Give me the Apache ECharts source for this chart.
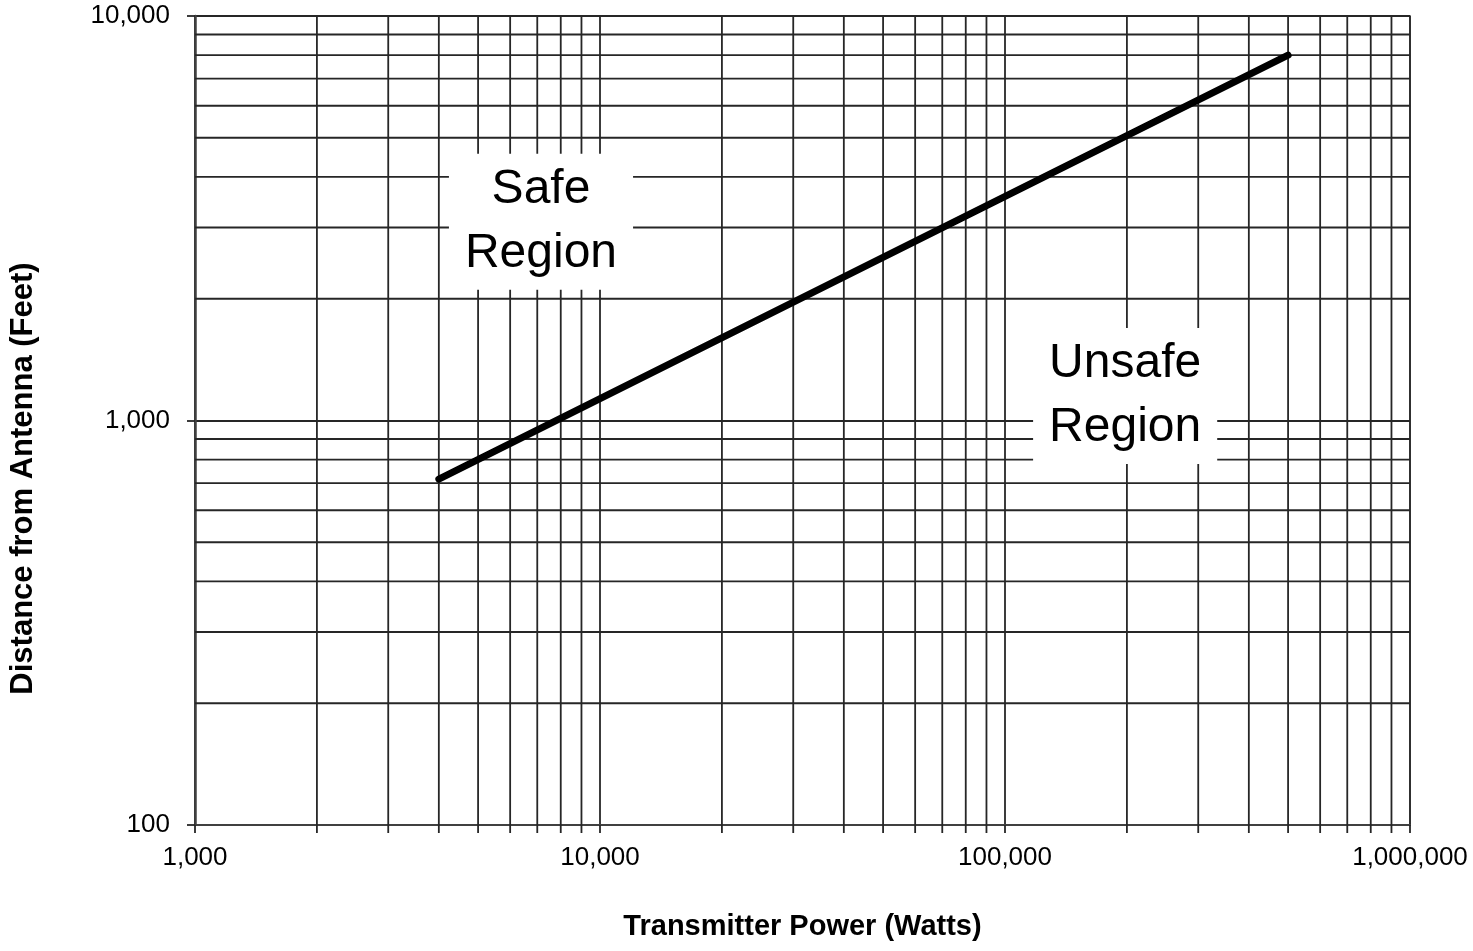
<!DOCTYPE html>
<html>
<head>
<meta charset="utf-8">
<title>Safe distance vs transmitter power</title>
<script src="https://cdn.jsdelivr.net/npm/echarts@6/dist/echarts.min.js"></script>
<style>
  html, body { margin: 0; padding: 0; background: #fff; }
  #main { width: 1473px; height: 951px; }
</style>
</head>
<body>
<div id="main"></div>
<script>
// boundary line (watts -> feet)
var powerWatts = [4000, 500000];
var distanceFeet = [716, 8000];

// minor grid values (log axes)
var xMinor = [2000, 3000, 4000, 5000, 6000, 7000, 8000, 9000,
  20000, 30000, 40000, 50000, 60000, 70000, 80000, 90000,
  200000, 300000, 400000, 500000, 600000, 700000, 800000, 900000];
var yMinor = [200, 300, 400, 500, 600, 700, 800, 900,
  2000, 3000, 4000, 5000, 6000, 7000, 8000, 9000];

// region annotations
var regionText = ['Safe\nRegion', 'Unsafe\nRegion'];
var regionX = [7150, 198000];
var regionY = [3100, 1150];

var FONT = 'Liberation Sans, Arial, sans-serif';
var GRID_COLOR = '#262626';
var GRID_W = 1.8;

var chart = echarts.init(document.getElementById('main'));

function fmt(v) {
  return Math.round(v).toLocaleString('en-US');
}

var option = {
  backgroundColor: '#fff',
  animation: false,
  grid: {
    left: 193, right: 63, top: 16, bottom: 126,
    show: true, borderColor: '#8a8a8a', borderWidth: 2
  },
  xAxis: {
    type: 'log', logBase: 10, min: 1000, max: 1000000,
    name: 'Transmitter Power (Watts)',
    nameLocation: 'middle', nameGap: 87,
    nameTextStyle: { fontFamily: FONT, fontWeight: 'bold', fontSize: 29, color: '#000' },
    axisLine: { show: true, lineStyle: { color: '#404040', width: 2 } },
    axisTick: { show: true, length: 8, lineStyle: { color: GRID_COLOR, width: GRID_W } },
    axisLabel: { fontFamily: FONT, fontSize: 26, color: '#000', margin: 20, formatter: fmt },
    splitLine: { show: true, lineStyle: { color: GRID_COLOR, width: GRID_W } }
  },
  yAxis: {
    type: 'log', logBase: 10, min: 100, max: 10000,
    name: 'Distance from Antenna (Feet)',
    nameLocation: 'middle', nameGap: 156, nameRotate: 90,
    nameTextStyle: { fontFamily: FONT, fontWeight: 'bold', fontSize: 31, color: '#000', padding: [0, 116, 0, 0] },
    axisLine: { show: true, lineStyle: { color: '#404040', width: 2.5 } },
    axisTick: { show: true, length: 8, lineStyle: { color: GRID_COLOR, width: GRID_W } },
    axisLabel: { fontFamily: FONT, fontSize: 26, color: '#000', margin: 25, formatter: fmt },
    splitLine: { show: true, lineStyle: { color: GRID_COLOR, width: GRID_W } }
  },
  series: [
    {
      // minor vertical grid lines, with a tick below the x axis
      type: 'custom',
      z: 1,
      silent: true,
      data: xMinor.map(function (v) { return [v, 1000]; }),
      encode: { x: 0, y: 1 },
      renderItem: function (params, api) {
        var v = api.value(0);
        var top = api.coord([v, 10000]);
        var bot = api.coord([v, 100]);
        return {
          type: 'line',
          shape: { x1: top[0], y1: top[1], x2: bot[0], y2: bot[1] + 8 },
          style: { stroke: GRID_COLOR, lineWidth: GRID_W }
        };
      }
    },
    {
      // minor horizontal grid lines
      type: 'custom',
      z: 1,
      silent: true,
      data: yMinor.map(function (v) { return [10000, v]; }),
      encode: { x: 0, y: 1 },
      renderItem: function (params, api) {
        var v = api.value(1);
        var l = api.coord([1000, v]);
        var r = api.coord([1000000, v]);
        return {
          type: 'line',
          shape: { x1: l[0], y1: l[1], x2: r[0], y2: r[1] },
          style: { stroke: GRID_COLOR, lineWidth: GRID_W }
        };
      }
    },
    {
      type: 'scatter',
      z: 4,
      silent: true,
      symbolSize: 0,
      itemStyle: { opacity: 1 },
      data: regionText.map(function (t, i) { return [regionX[i], regionY[i], t]; }),
      label: {
        show: true,
        position: 'inside',
        formatter: function (p) { return p.value[2]; },
        fontFamily: FONT,
        fontSize: 48,
        lineHeight: 64,
        color: '#000',
        opacity: 1,
        backgroundColor: '#fff',
        padding: [4, 16]
      }
    },
    {
      type: 'line',
      z: 5,
      data: powerWatts.map(function (x, i) { return [x, distanceFeet[i]]; }),
      showSymbol: false,
      symbol: 'none',
      lineStyle: { color: '#000', width: 7, cap: 'round' }
    }
  ]
};

chart.setOption(option);
</script>
</body>
</html>
